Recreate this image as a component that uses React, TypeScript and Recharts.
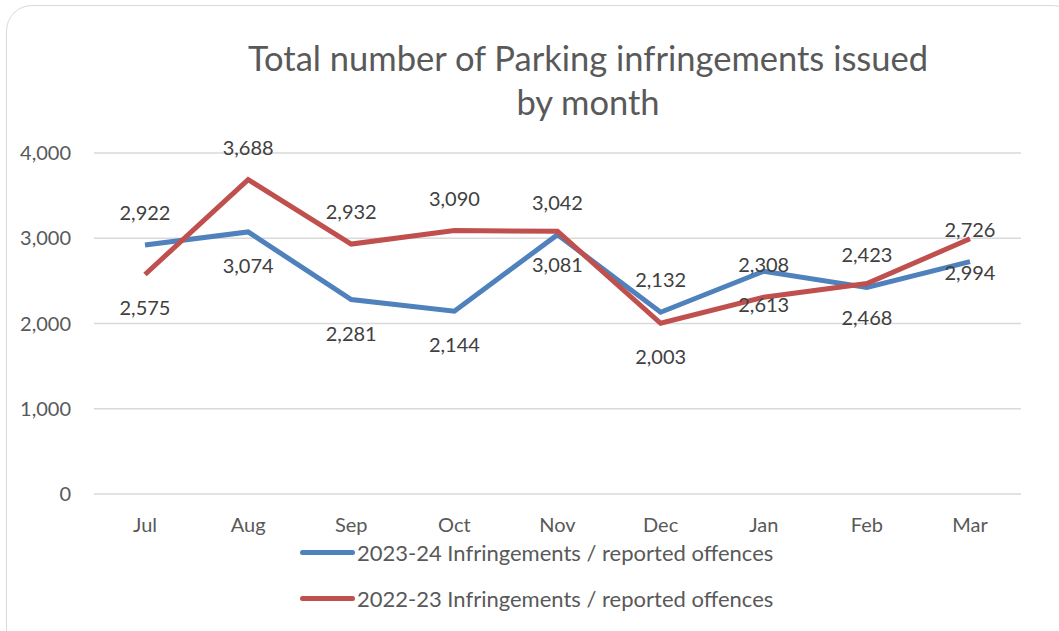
import React from "react";
import { LineChart, Line, XAxis, YAxis, CartesianGrid, LabelList } from "recharts";

const months = ["Jul", "Aug", "Sep", "Oct", "Nov", "Dec", "Jan", "Feb", "Mar"];
const infringements2324 = [2922, 3074, 2281, 2144, 3042, 2132, 2613, 2423, 2726];
const infringements2223 = [2575, 3688, 2932, 3090, 3081, 2003, 2308, 2468, 2994];
const yTicks = [0, 1000, 2000, 3000, 4000];

// where Excel put each data label: -1 above the point, 1 below
const side2324 = [-1, 1, 1, 1, -1, -1, 1, -1, -1];
const side2223 = [1, -1, -1, -1, 1, 1, -1, 1, 1];

const BLUE = "#4f81bd";
const RED = "#c0504d";
const FONT = "Lato, 'Open Sans', sans-serif";

const data = months.map((m, i) => ({
	month: m,
	cur: infringements2324[i],
	prev: infringements2223[i],
}));

const fmt = (v: number) => v.toLocaleString("en-US");

function makeLabel(sides: number[]) {
	return (props: any) => {
		const { x, y, value, index } = props;
		return (
			<text
				x={x}
				y={y + sides[index] * 33}
				textAnchor="middle"
				dominantBaseline="central"
				fill="#404040"
				fontSize={20}
				fontFamily={FONT}
			>
				{fmt(value)}
			</text>
		);
	};
}

const legendItems = [
	{ color: BLUE, text: "2023-24 Infringements / reported offences" },
	{ color: RED, text: "2022-23 Infringements / reported offences" },
];

export default function App() {
	return (
		<div
			style={{
				position: "absolute",
				left: 0,
				top: 0,
				width: 1059,
				height: 631,
				background: "#fff",
				overflow: "hidden",
				fontFamily: FONT,
			}}
		>
			<div
				style={{
					position: "absolute",
					left: 6,
					top: 5,
					width: 1070,
					height: 650,
					border: "1.5px solid #d9d9d9",
					borderRadius: 26,
				}}
			/>
			<div
				style={{
					position: "absolute",
					left: 180,
					top: 36,
					width: 816,
					textAlign: "center",
					fontSize: 34.5,
					lineHeight: "44px",
					color: "#595959",
				}}
			>
				Total number of Parking infringements issued
				<br />
				by month
			</div>
			<LineChart
				width={1059}
				height={631}
				data={data}
				margin={{ top: 153, right: 38, bottom: 97, left: 0 }}
				style={{ position: "absolute", left: 0, top: 0 }}
			>
				<CartesianGrid vertical={false} stroke="#d9d9d9" strokeWidth={1.5} />
				<XAxis
					dataKey="month"
					height={40}
					padding={{ left: 51, right: 51 }}
					axisLine={false}
					tickLine={false}
					tickMargin={18}
					tick={{ fill: "#595959", fontSize: 20, fontFamily: FONT }}
					interval={0}
				/>
				<YAxis
					width={94}
					domain={[0, 4000]}
					ticks={yTicks}
					axisLine={false}
					tickLine={false}
					tickMargin={17}
					tickFormatter={fmt}
					tick={{ fill: "#595959", fontSize: 20, fontFamily: FONT }}
				/>
				<Line
					dataKey="cur"
					stroke={BLUE}
					strokeWidth={5}
					dot={false}
					isAnimationActive={false}
				>
					<LabelList dataKey="cur" content={makeLabel(side2324)} />
				</Line>
				<Line
					dataKey="prev"
					stroke={RED}
					strokeWidth={5}
					dot={false}
					isAnimationActive={false}
				>
					<LabelList dataKey="prev" content={makeLabel(side2223)} />
				</Line>
			</LineChart>
			{legendItems.map((it, i) => (
				<div
					key={it.text}
					style={{
						position: "absolute",
						left: 300,
						top: 538 + i * 46,
						height: 28,
						display: "flex",
						alignItems: "center",
						fontSize: 22,
						color: "#595959",
						whiteSpace: "nowrap",
					}}
				>
					<span
						style={{
							display: "inline-block",
							width: 55,
							height: 5,
							borderRadius: 3,
							background: it.color,
							marginRight: 2,
						}}
					/>
					{it.text}
				</div>
			))}
		</div>
	);
}
